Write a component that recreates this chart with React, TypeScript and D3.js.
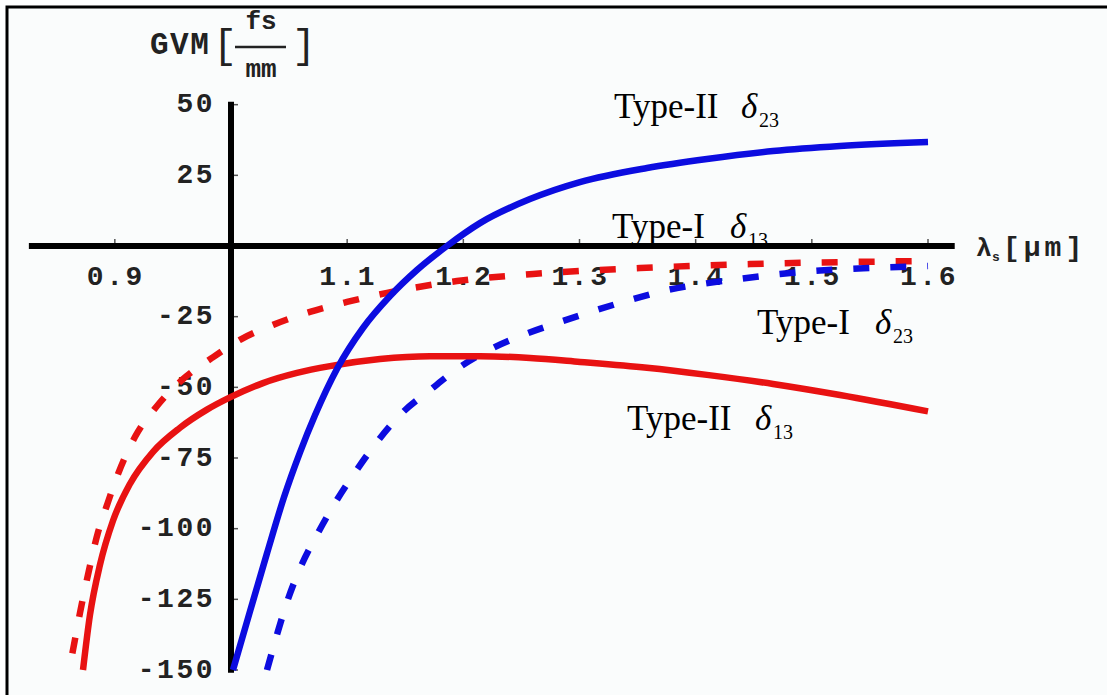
import React from "react";
import * as d3 from "d3";

const W = 1107;
const H = 695;

// Axis ticks
const xTickValues = [0.9, 1.1, 1.2, 1.3, 1.4, 1.5, 1.6];
const xTickLabels = ["0.9", "1.1", "1.2", "1.3", "1.4", "1.5", "1.6"];
const yTickValues = [50, 25, -25, -50, -75, -100, -125, -150];
const yTickLabels = ["50", "25", "-25", "-50", "-75", "-100", "-125", "-150"];

// Type-II, delta_23 (solid blue): signal wavelength [um] -> GVM [fs/mm]
const typeIId23Lambda = [1.0017, 1.0164, 1.031, 1.0456, 1.0594, 1.0723, 1.0912, 1.1136, 1.1369, 1.1601, 1.1859, 1.2143, 1.2574, 1.3004, 1.3581, 1.4097, 1.4666, 1.5242, 1.6];
const typeIId23Gvm = [-150, -129.2, -108.7, -88.9, -73.0, -59.9, -43.5, -29.0, -17.7, -8.5, 0, 8.1, 16.6, 22.6, 27.6, 30.8, 33.6, 35.4, 36.8];

// Type-II, delta_13 (solid red)
const typeIId13Lambda = [0.8726, 0.8786, 0.8872, 0.8984, 0.9131, 0.9329, 0.9561, 0.9793, 1.0, 1.0275, 1.0568, 1.0852, 1.1283, 1.1713, 1.2143, 1.2574, 1.3004, 1.3581, 1.4097, 1.4666, 1.5242, 1.6];
const typeIId13Gvm = [-150, -130.5, -112.8, -97.2, -84.1, -72.8, -64.3, -57.9, -53.4, -48.5, -44.9, -42.5, -40.0, -39.0, -39.0, -39.6, -41.0, -43.1, -45.6, -48.8, -52.7, -58.5];

// Type-I, delta_13 (dashed red)
const typeId13Lambda = [0.8606, 0.864, 0.87, 0.8769, 0.8855, 0.8933, 0.9028, 0.9174, 0.9363, 0.9578, 0.9836, 1.0077, 1.0362, 1.068, 1.0999, 1.1343, 1.1945, 1.26, 1.3521, 1.4468, 1.6];
const typeId13Gvm = [-150, -142.9, -129.8, -116.3, -101.3, -91.6, -80.6, -67.5, -56.6, -47.4, -39.6, -33.2, -27.9, -23.3, -19.8, -16.6, -12.4, -9.9, -7.8, -6.4, -5.3];

// Type-I, delta_23 (dashed blue)
const typeId23Lambda = [1.031, 1.0405, 1.0491, 1.0611, 1.0749, 1.0912, 1.1076, 1.1257, 1.1472, 1.1713, 1.1971, 1.2255, 1.2514, 1.2832, 1.3151, 1.3435, 1.3753, 1.4063, 1.4399, 1.4726, 1.507, 1.55, 1.6];
const typeId23Gvm = [-150, -136.2, -124.9, -112.5, -101.5, -89.8, -79.6, -69.3, -59.1, -51.0, -42.8, -36.1, -31.5, -26.9, -22.6, -19.1, -15.6, -13.4, -11.5, -9.9, -8.7, -7.8, -7.1];

const RED = "#e81212";
const BLUE = "#0c0ce0";

const x = d3.scaleLinear().domain([1.0, 1.6]).range([231, 928]);
const y = d3.scaleLinear().domain([0, -150]).range([246, 670]);

const line = d3
  .line<[number, number]>()
  .x((d) => x(d[0]))
  .y((d) => y(d[1]))
  .curve(d3.curveMonotoneX);

const zip = (a: number[], b: number[]) => a.map((v, i) => [v, b[i]] as [number, number]);

const series = [
  { name: "Type-I d13", lam: typeId13Lambda, gvm: typeId13Gvm, color: RED, dash: "16 21", offset: 20 },
  { name: "Type-I d23", lam: typeId23Lambda, gvm: typeId23Gvm, color: BLUE, dash: "16 21", offset: 0 },
  { name: "Type-II d13", lam: typeIId13Lambda, gvm: typeIId13Gvm, color: RED, dash: null, offset: 0 },
  { name: "Type-II d23", lam: typeIId23Lambda, gvm: typeIId23Gvm, color: BLUE, dash: null, offset: 0 },
];

// Curve labels: text, subscript, baseline anchor, offset of the delta
const curveLabels = [
  { kind: "Type-II", sub: "23", x: 614, y: 118, dx: 127 },
  { kind: "Type-I", sub: "13", x: 612, y: 238, dx: 118 },
  { kind: "Type-I", sub: "23", x: 757, y: 334, dx: 118 },
  { kind: "Type-II", sub: "13", x: 627, y: 430, dx: 128 },
];

const MONO = "'Liberation Mono', 'DejaVu Sans Mono', monospace";
const SERIF = "'Liberation Serif', 'DejaVu Serif', serif";

export default function App() {
  const axisY0 = y(0);
  const axisX0 = x(1.0);
  return (
    <svg
      width={W}
      height={H}
      viewBox={`0 0 ${W} ${H}`}
      style={{ position: "absolute", left: 0, top: 0, background: "#ffffff" }}
    >
      {/* frame */}
      <rect x={7} y={7} width={W + 20} height={H + 20} fill="#fafcfc" stroke="#000" strokeWidth={3} />

      {/* curve labels */}
      {curveLabels.map((l, i) => (
        <g key={i} fill="#000">
          <text x={l.x} y={l.y} fontFamily={SERIF} fontSize={35}>
            {l.kind}
          </text>
          <text x={l.x + l.dx} y={l.y} fontFamily={SERIF} fontSize={35} fontStyle="italic">
            δ
          </text>
          <text x={l.x + l.dx + 18} y={l.y + 9} fontFamily={SERIF} fontSize={20}>
            {l.sub}
          </text>
        </g>
      ))}

      {/* axes */}
      <line x1={x(0.826)} x2={x(1.623)} y1={axisY0} y2={axisY0} stroke="#000" strokeWidth={6} />
      <line x1={axisX0} x2={axisX0} y1={y(51)} y2={y(-151)} stroke="#000" strokeWidth={6} />
      {xTickValues.map((v) => (
        <line key={"xt" + v} x1={x(v)} x2={x(v)} y1={axisY0 - 3} y2={axisY0 - 7} stroke="#555" strokeWidth={1.5} />
      ))}
      {yTickValues.map((v) => (
        <line key={"yt" + v} x1={axisX0 + 3} x2={axisX0 + 7} y1={y(v)} y2={y(v)} stroke="#555" strokeWidth={1.5} />
      ))}

      {/* tick labels */}
      {xTickValues.map((v, i) => (
        <text
          key={"xl" + v}
          x={x(v) + 1}
          y={277}
          textAnchor="middle"
          dominantBaseline="central"
          fontFamily={MONO}
          fontWeight="bold"
          fontSize={28}
          letterSpacing={2.5}
          fill="#222"
        >
          {xTickLabels[i]}
        </text>
      ))}
      {yTickValues.map((v, i) => (
        <text
          key={"yl" + v}
          x={215}
          y={y(v)}
          textAnchor="end"
          dominantBaseline="central"
          fontFamily={MONO}
          fontWeight="bold"
          fontSize={28}
          letterSpacing={2.5}
          fill="#222"
        >
          {yTickLabels[i]}
        </text>
      ))}

      {/* y axis title: GVM [fs/mm] */}
      <g fill="#222" fontFamily={MONO}>
        <text x={150} y={54} fontSize={31} fontWeight="bold" letterSpacing={1.5}>GVM</text>
        <text x={213} y={58} fontSize={40}>[</text>
        <text x={261} y={29} fontSize={26} fontWeight="bold" textAnchor="middle">fs</text>
        <line x1={235} x2={286} y1={47} y2={47} stroke="#222" strokeWidth={2.5} />
        <text x={261} y={77} fontSize={26} fontWeight="bold" textAnchor="middle">mm</text>
        <text x={292} y={58} fontSize={40}>]</text>
      </g>

      {/* x axis title: λs [μm] */}
      <g fill="#222" fontFamily={MONO} fontWeight="bold">
        <text x={976} y={256} fontSize={26}>λ</text>
        <text x={992} y={261} fontSize={13}>s</text>
        <text x={1003} y={256} fontSize={28} letterSpacing={4}>[μm]</text>
      </g>

      {/* curves */}
      {series.map((s) => (
        <path
          key={s.name}
          d={line(zip(s.lam, s.gvm)) || ""}
          fill="none"
          stroke={s.color}
          strokeWidth={6.5}
          strokeDasharray={s.dash || undefined}
          strokeDashoffset={s.offset}
        />
      ))}
    </svg>
  );
}
